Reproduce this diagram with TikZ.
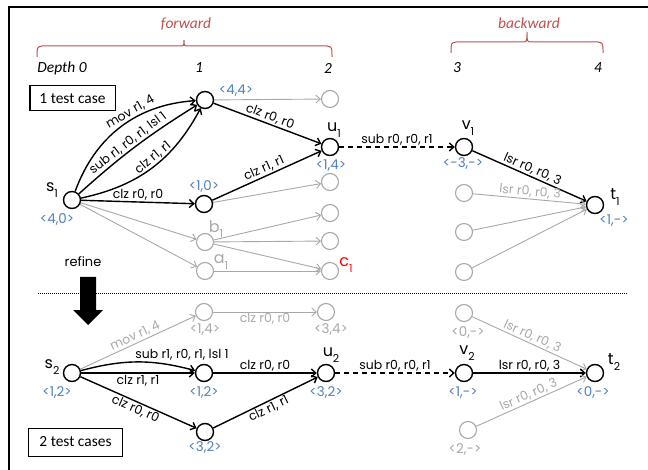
\documentclass[tikz,border=0pt]{standalone}
\usepackage{fontspec}
\setmainfont{Carlito}
\newfontfamily\geo{Poppins}
\usetikzlibrary{arrows.meta}
\definecolor{blu}{RGB}{79,129,189}
\definecolor{rd}{RGB}{192,80,77}
\definecolor{gry}{RGB}{168,168,168}
\newcommand\mysub[1]{\raisebox{-0.35em}{\fontsize{11}{11}\selectfont #1}}
\begin{document}
\begin{tikzpicture}[x=1bp,y=-1bp,
  nd/.style={circle,draw,line width=1.4bp,minimum size=17bp,inner sep=0pt},
  gnd/.style={circle,draw=gry,line width=1.1bp,minimum size=17bp,inner sep=0pt},
  be/.style={line width=1.4bp,-{Straight Barb[length=4.5bp,width=8bp]}},
  ge/.style={draw=gry,line width=0.9bp,-{Straight Barb[length=4.5bp,width=8bp]}},
  de/.style={be,dash pattern=on 5bp off 4bp},
  el/.style={font=\geo\fontsize{12.5}{14}\selectfont,inner sep=1.2bp},
  gel/.style={el,text=gry},
  nm/.style={font=\geo\fontsize{16}{18}\selectfont,inner sep=0pt},
  bl/.style={font=\geo\fontsize{13.5}{15}\selectfont,text=blu,inner sep=0pt},
  gbl/.style={bl,text=gry},
  hd/.style={font=\itshape\fontsize{15.5}{17}\selectfont,inner sep=0pt},
  rh/.style={hd,text=rd},
  brace/.style={draw=rd,line width=1bp},
  box/.style={draw,line width=1bp,font=\fontsize{15.5}{17}\selectfont,inner sep=0pt}
]
\useasboundingbox (0,0) rectangle (648,470);
% frame
\draw[line width=1.3bp] (9,470) -- (9,7) -- (648,7);
% headers
\node[rh] (fw) at (186,24) {forward};
\node[rh] (bw) at (529,23) {backward};
\draw[brace] (37,57) .. controls (37,47) .. (42,46) -- (179,46) .. controls (184,46) .. (184,40) .. controls (184,46) .. (189,46) -- (327,46) .. controls (332,47) .. (332,57);
\draw[brace] (451,53) .. controls (451,43) .. (456,42) -- (522,42) .. controls (527,42) .. (527,32) .. controls (527,42) .. (532,42) -- (598,42) .. controls (603,43) .. (603,53);
\node[hd] (d0) at (62,68) {Depth 0};
\node[hd] (d1) at (199,68) {1};
\node[hd] (d2) at (328,68) {2};
\node[hd] (d3) at (457,68) {3};
\node[hd] (d4) at (598,68) {4};
\node[box,minimum width=85bp,minimum height=25bp] (tc1) at (72.5,98.5) {1 test case};
\node[box,minimum width=93bp,minimum height=28bp] (tc2) at (75.5,442) {2 test cases};
% refine
\node[font=\geo\fontsize{13}{15}\selectfont,inner sep=0pt] (rf) at (83,262) {refine};
\fill (80,277) -- (96,277) -- (96,310) -- (103,310) -- (88,325) -- (73,310) -- (80,310) -- cycle;
\draw[line width=0.6bp,dash pattern=on 1bp off 1bp] (38,293) -- (627,293);
% ---------- top graph ----------
\node[nd] (s1) at (72,200) {};
\node[nd] (n1a) at (205,100) {};
\node[nd] (n1b) at (204,204) {};
\node[gnd] (b1) at (205,242) {};
\node[gnd] (a1) at (205,271) {};
\node[gnd] (g21) at (330,99) {};
\node[nd] (u1) at (330,147) {};
\node[gnd] (g23) at (330,182) {};
\node[gnd] (g24) at (330,213) {};
\node[gnd] (g25) at (330,241) {};
\node[gnd] (c1) at (330,271) {};
\node[nd] (v1) at (464,147) {};
\node[gnd] (g32) at (464,193) {};
\node[gnd] (g33) at (464,232) {};
\node[gnd] (g34) at (464,272) {};
\node[nd] (t1) at (595,205) {};
% names
\node[nm] (ls1) at (52,190) {s\mysub{1}};
\node[nm] (lu1) at (334,130) {u\mysub{1}};
\node[nm] (lv1) at (468,128) {v\mysub{1}};
\node[nm] (lt1) at (615,197) {t\mysub{1}};
\node[nm,text=gry] (lb1) at (216,229) {b\mysub{1}};
\node[nm,text=gry] (la1) at (221,262) {a\mysub{1}};
\node[nm,text=red] (lc1) at (346,265) {c\mysub{1}};
% values
\node[bl] (vs1) at (57,220) {<4,0>};
\node[bl] (vn1a) at (236,91) {<4,4>};
\node[bl] (vn1b) at (204,187) {<1,0>};
\node[bl] (vu1) at (331,166) {<1,4>};
\node[bl] (vv1) at (463,164) {<-3,->};
\node[bl] (vt1) at (614,221) {<1,->};
% edges
\draw[be] (s1) to[bend left=33] node[el,sloped,above,pos=0.6] {mov r1, 4} (n1a);
\draw[be] (s1) to[bend left=5] node[el,sloped,above,pos=0.47] {sub r1, r0, r1, lsl 1} (n1a);
\draw[be] (s1) to[bend right=25] node[el,sloped,above,pos=0.55] {clz r1, r1} (n1a);
\draw[be] (s1) -- node[el,above] {clz r0, r0} (n1b);
\draw[ge] (s1) -- (b1);
\draw[ge] (s1) -- (a1);
\draw[ge] (n1a) -- (g21);
\draw[be] (n1a) -- node[el,sloped,above] {clz r0, r0} (u1);
\draw[be] (n1b) -- node[el,sloped,above] {clz r1, r1} (u1);
\draw[ge] (n1b) -- (g23);
\draw[ge] (b1) -- (g24);
\draw[ge] (b1) -- (g25);
\draw[ge] (b1) -- (c1);
\draw[ge] (a1) -- (c1);
\draw[de] (u1) -- node[el,above] {sub r0, r0, r1} (v1);
\draw[be] (v1) -- node[el,sloped,above] {lsr r0, r0, 3} (t1);
\draw[ge] (g32) -- node[gel,sloped,above] {lsr r0, r0, 3} (t1);
\draw[ge] (g33) -- (t1);
\draw[ge] (g34) -- (t1);
% ---------- bottom graph ----------
\node[nd] (s2) at (72,373) {};
\node[gnd] (m1a) at (204,312) {};
\node[nd] (m1b) at (204,373) {};
\node[nd] (m1c) at (205,432) {};
\node[gnd] (m2a) at (326,312) {};
\node[nd] (u2) at (326,373) {};
\node[gnd] (m3a) at (464,313) {};
\node[nd] (v2) at (464,373) {};
\node[gnd] (m3c) at (468,430) {};
\node[nd] (t2) at (595,373) {};
\node[nm] (ls2) at (52,367) {s\mysub{2}};
\node[nm] (lu2) at (331,355) {u\mysub{2}};
\node[nm] (lv2) at (467,353) {v\mysub{2}};
\node[nm] (lt2) at (614,362) {t\mysub{2}};
\node[bl] (vs2) at (57,393) {<1,2>};
\node[gbl] (vm1a) at (205,330) {<1,4>};
\node[bl] (vm1b) at (204,393) {<1,2>};
\node[bl] (vm1c) at (205,448) {<3,2>};
\node[gbl] (vm2a) at (331,330) {<3,4>};
\node[bl] (vu2) at (326,393) {<3,2>};
\node[gbl] (vm3a) at (468,333) {<0,->};
\node[bl] (vv2) at (463,393) {<1,->};
\node[gbl] (vm3c) at (465,450) {<2,->};
\node[bl] (vt2) at (593,393) {<0,->};
\draw[ge] (s2) -- node[gel,sloped,above] {mov r1, 4} (m1a);
\draw[be] (s2) to[bend left=15] node[el,above,pos=0.5,xshift=44bp] {sub r1, r0, r1, lsl 1} (m1b);
\draw[be] (s2) -- node[el,below] {clz r1, r1} (m1b);
\draw[be] (s2) -- node[el,sloped,below] {clz r0, r0} (m1c);
\draw[ge] (m1a) -- node[gel,below] {clz r0, r0} (m2a);
\draw[be] (m1b) -- node[el,above] {clz r0, r0} (u2);
\draw[be] (m1c) -- node[el,sloped,below] {clz r1, r1} (u2);
\draw[de] (u2) -- node[el,above] {sub r0, r0, r1} (v2);
\draw[ge] (m3a) -- node[gel,sloped,above] {lsr r0, r0, 3} (t2);
\draw[be] (v2) -- node[el,above] {lsr r0, r0, 3} (t2);
\draw[ge] (m3c) -- node[gel,sloped,above] {lsr r0, r0, 3} (t2);
\end{tikzpicture}
\end{document}
